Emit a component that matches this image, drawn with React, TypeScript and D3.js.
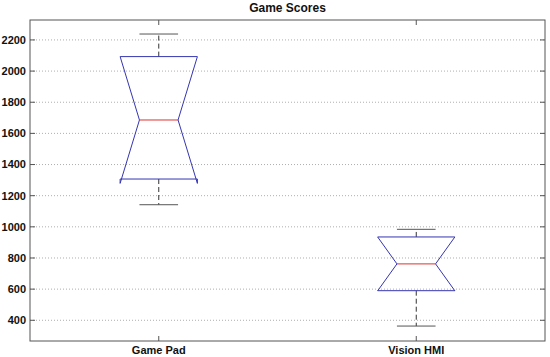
import React from "react";
import * as d3 from "d3";

const categories = ["Game Pad", "Vision HMI"];
const upperWhisker = [2238, 984];
const q3 = [2093, 935];
const median = [1686, 762];
const q1 = [1307, 590];
const lowerWhisker = [1142, 363];
const notchHalf = [407, 173];
const yTicks = [400, 600, 800, 1000, 1200, 1400, 1600, 1800, 2000, 2200];

const W = 550, H = 357;
const L = 30, R = 545, T = 20, B = 341;

export default function App() {
  const x = d3.scaleLinear().domain([0.5, 2.5]).range([L, R]);
  const y = d3.scaleLinear().domain([267, 2328]).range([B, T]);
  const unit = x(1) - x(0);
  const bw = 0.15 * unit;
  const nw = bw * 0.5;
  const cw = bw * 0.5;
  const font = "Arial, 'Liberation Sans', Helvetica, sans-serif";
  return (
    <svg width={W} height={H} style={{ position: "absolute", left: 0, top: 0, background: "#fff" }}>
      <rect x={0} y={0} width={W} height={H} fill="#fff" />
      {yTicks.map((t) => (
        <g key={t}>
          <line x1={L} x2={R} y1={y(t)} y2={y(t)} stroke="#999" strokeWidth={0.8} strokeDasharray="1,2" />
          <line x1={L} x2={L + 5} y1={y(t)} y2={y(t)} stroke="#555" />
          <line x1={R - 5} x2={R} y1={y(t)} y2={y(t)} stroke="#555" />
          <text x={L - 4} y={y(t)} dy="0.35em" textAnchor="end" fontFamily={font} fontSize={11} fontWeight="bold" fill="#111">
            {t}
          </text>
        </g>
      ))}
      {categories.map((c, i) => {
        const cx = x(i + 1);
        const nHi = median[i] + notchHalf[i];
        const nLo = median[i] - notchHalf[i];
        const pts: [number, number][] = [
          [cx - bw, y(q3[i])],
          [cx + bw, y(q3[i])],
          [cx + bw, y(nHi)],
          [cx + nw, y(median[i])],
          [cx + bw, y(nLo)],
          [cx + bw, y(q1[i])],
          [cx - bw, y(q1[i])],
          [cx - bw, y(nLo)],
          [cx - nw, y(median[i])],
          [cx - bw, y(nHi)],
          [cx - bw, y(q3[i])],
        ];
        const line = d3.line();
        return (
          <g key={c}>
            <line x1={cx} x2={cx} y1={B} y2={B - 5} stroke="#555" />
            <line x1={cx} x2={cx} y1={T} y2={T + 5} stroke="#555" />
            <line x1={cx} x2={cx} y1={y(q3[i])} y2={y(upperWhisker[i])} stroke="#333" strokeDasharray="5,3" />
            <line x1={cx} x2={cx} y1={y(q1[i])} y2={y(lowerWhisker[i])} stroke="#333" strokeDasharray="5,3" />
            <line x1={cx - cw} x2={cx + cw} y1={y(upperWhisker[i])} y2={y(upperWhisker[i])} stroke="#555" />
            <line x1={cx - cw} x2={cx + cw} y1={y(lowerWhisker[i])} y2={y(lowerWhisker[i])} stroke="#555" />
            <path d={line(pts) || ""} fill="none" stroke="#3535b0" strokeWidth={1} />
            <line x1={cx - nw} x2={cx + nw} y1={y(median[i])} y2={y(median[i])} stroke="#e03030" />
            <text x={cx} y={B + 13} textAnchor="middle" fontFamily={font} fontSize={11} fontWeight="bold" fill="#111">
              {c}
            </text>
          </g>
        );
      })}
      <rect x={L} y={T} width={R - L} height={B - T} fill="none" stroke="#555" strokeWidth={1} />
      <text x={(L + R) / 2} y={12} textAnchor="middle" fontFamily={font} fontSize={12} fontWeight="bold" fill="#111">
        Game Scores
      </text>
    </svg>
  );
}
